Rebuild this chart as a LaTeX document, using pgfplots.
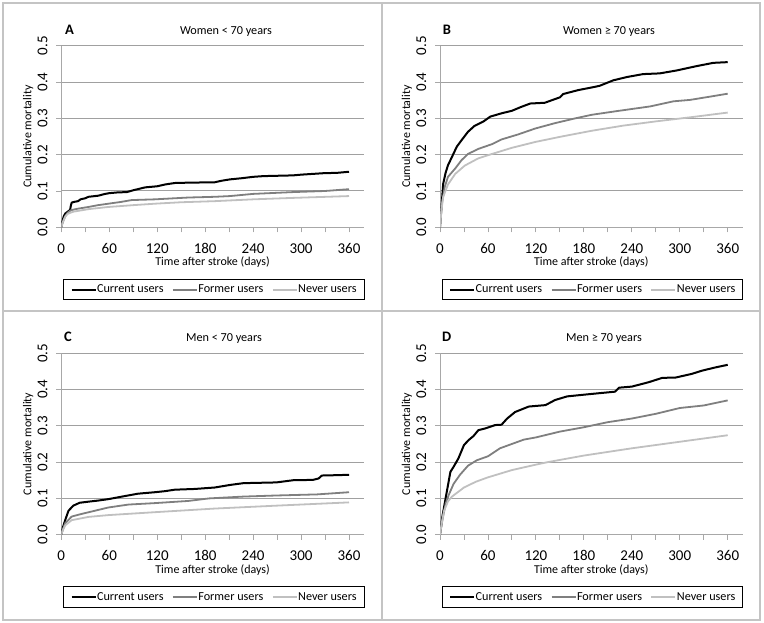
\documentclass[border=0pt]{standalone}
\usepackage{fontspec}
\setmainfont{Carlito}
\usepackage{pgfplots}
\pgfplotsset{compat=1.18}

\definecolor{cur}{HTML}{000000}
\definecolor{form}{HTML}{7F7F7F}
\definecolor{nev}{HTML}{C0C0C0}
\definecolor{gridc}{HTML}{A0A0A0}
\definecolor{axc}{HTML}{A8A8A8}
\definecolor{framec}{HTML}{C4C4C4}

\pgfplotsset{panel/.style={
  scale only axis, width=302.5pt, height=181.5pt,
  xmin=0, xmax=378.5, ymin=0, ymax=0.5,
  axis x line*=bottom, axis y line*=left,
  axis line style={draw=axc, line width=0.9pt, -},
  xtick={0,60,...,360}, minor xtick={30,90,...,330},
  ytick={0,0.1,0.2,0.3,0.4,0.5},
  tick align=outside, major tick length=5pt, minor tick length=5pt,
  tick style={draw=axc, line width=0.9pt},
  ymajorgrids, major grid style={draw=gridc, line width=1pt},
  /pgf/number format/assume math mode=true,
  yticklabel style={/pgf/number format/fixed, /pgf/number format/fixed zerofill,
     /pgf/number format/precision=1, xshift=-9pt, rotate=90, anchor=base},
  xticklabel style={anchor=base, yshift=-21pt},
  tick label style={font=\fontsize{15}{18}\selectfont},
  label style={font=\fontsize{12}{14}\selectfont},
  xlabel={Time after stroke (days)},
  ylabel={Cumulative mortality},
  xlabel style={at={(axis description cs:0.5,-0.212)}, anchor=base},
  ylabel style={at={(axis description cs:-0.099,0.5)}, anchor=base},
  legend columns=3,
  legend image code/.code={\draw[#1] (0pt,0pt) -- (24pt,0pt);},
  legend style={draw=black, line width=0.8pt, fill=white,
     at={(axis description cs:0.006,-0.285)}, anchor=north west,
     font=\fontsize{12.2}{14}\selectfont,
     inner xsep=7pt, inner ysep=3.5pt,
     nodes={inner xsep=0.5pt, inner ysep=2pt},
     /tikz/every even column/.append style={column sep=8pt}},
  every axis plot/.append style={line join=round},
}}

\begin{document}
\begin{tikzpicture}[x=1pt,y=1pt]
\path (0,0) rectangle (764,623);
\draw[framec, line width=1.2pt] (3,3) rectangle (760,620);
\draw[framec, line width=1.2pt] (382,3) -- (382,620);
\draw[framec, line width=1.2pt] (3,312) -- (760,312);

% ---------------- Panel A ----------------
\begin{axis}[panel, at={(61.3pt,395.7pt)}, anchor=south west]
\addplot[cur, line width=2pt] table[x=t,y=m] {
t m
0 0
1 0.012
3 0.030
5 0.038
8 0.043
11 0.048
12 0.060
13 0.068
16 0.070
21 0.072
24 0.077
30 0.080
34 0.084
46 0.087
55 0.092
60 0.094
70 0.096
82 0.097
90 0.102
105 0.110
120 0.113
130 0.118
142 0.122
160 0.123
192 0.124
200 0.128
211 0.132
225 0.135
240 0.139
253 0.141
290 0.143
300 0.145
328 0.149
345 0.150
360 0.153
};
\addplot[form, line width=1.8pt] table[x=t,y=m] {
t m
0 0
2 0.015
5 0.030
8 0.040
12 0.047
20 0.051
34 0.056
46 0.061
59 0.065
75 0.070
88 0.075
117 0.077
159 0.082
192 0.084
211 0.086
240 0.092
290 0.097
330 0.100
360 0.105
};
\addplot[nev, line width=1.8pt] table[x=t,y=m] {
t m
0 0
2 0.015
5 0.030
8 0.037
15 0.043
34 0.050
59 0.056
90 0.061
117 0.065
150 0.069
192 0.072
240 0.077
290 0.081
360 0.086
};
\legend{Current users, Former users, Never users}
\end{axis}

% ---------------- Panel B ----------------
\begin{axis}[panel, at={(440pt,395.7pt)}, anchor=south west]
\addplot[cur, line width=2pt] table[x=t,y=m] {
t m
0 0
1 0.03
4 0.12
7 0.15
10 0.171
15 0.194
21 0.222
27 0.240
35 0.263
43 0.279
54 0.291
63 0.305
77 0.314
90 0.321
102 0.332
113 0.341
131 0.343
150 0.358
154 0.367
173 0.378
194 0.387
200 0.390
217 0.405
234 0.414
254 0.422
275 0.424
296 0.432
321 0.444
342 0.453
360 0.455
};
\addplot[form, line width=1.8pt] table[x=t,y=m] {
t m
0 0
2 0.06
6 0.112
10 0.139
19 0.162
27 0.185
35 0.202
48 0.216
65 0.229
77 0.242
98 0.256
119 0.272
144 0.287
169 0.300
190 0.310
221 0.320
263 0.333
292 0.347
313 0.351
338 0.360
360 0.368
};
\addplot[nev, line width=1.8pt] table[x=t,y=m] {
t m
0 0
2 0.05
4 0.084
10 0.118
19 0.147
31 0.170
48 0.190
65 0.202
90 0.219
119 0.235
152 0.250
190 0.266
229 0.280
271 0.292
313 0.303
360 0.316
};
\legend{Current users, Former users, Never users}
\end{axis}

% ---------------- Panel C ----------------
\begin{axis}[panel, at={(61.3pt,88.3pt)}, anchor=south west]
\addplot[cur, line width=2pt] table[x=t,y=m] {
t m
0 0
2 0.020
5 0.041
9 0.066
15 0.080
23 0.088
34 0.091
46 0.094
59 0.098
76 0.105
96 0.113
117 0.117
130 0.120
142 0.124
167 0.126
192 0.130
211 0.137
228 0.142
269 0.144
290 0.150
315 0.151
322 0.155
326 0.163
345 0.164
360 0.165
};
\addplot[form, line width=1.8pt] table[x=t,y=m] {
t m
0 0
2 0.015
5 0.032
13 0.050
25 0.057
42 0.066
59 0.075
84 0.083
117 0.087
159 0.093
185 0.100
228 0.105
269 0.108
320 0.111
360 0.117
};
\addplot[nev, line width=1.8pt] table[x=t,y=m] {
t m
0 0
2 0.013
5 0.026
13 0.040
34 0.049
59 0.054
117 0.062
192 0.072
269 0.080
360 0.089
};
\legend{Current users, Former users, Never users}
\end{axis}

% ---------------- Panel D ----------------
\begin{axis}[panel, at={(440pt,88.3pt)}, anchor=south west]
\addplot[cur, line width=2pt] table[x=t,y=m] {
t m
0 0
3 0.05
7 0.10
13 0.173
17 0.187
23 0.210
30 0.247
36 0.261
42 0.272
48 0.288
57 0.293
69 0.302
77 0.303
84 0.320
94 0.338
111 0.353
132 0.357
144 0.371
159 0.381
186 0.387
219 0.394
224 0.405
240 0.408
261 0.420
278 0.432
295 0.433
315 0.443
328 0.452
345 0.461
360 0.468
};
\addplot[form, line width=1.8pt] table[x=t,y=m] {
t m
0 0
3 0.04
7 0.085
11 0.11
17 0.14
25 0.165
35 0.19
46 0.205
60 0.216
75 0.238
90 0.250
105 0.262
120 0.268
150 0.284
180 0.296
210 0.310
240 0.320
270 0.333
300 0.349
330 0.356
360 0.370
};
\addplot[nev, line width=1.8pt] table[x=t,y=m] {
t m
0 0
2 0.03
5 0.065
10 0.092
15 0.105
30 0.130
45 0.146
60 0.158
90 0.178
120 0.193
135 0.200
180 0.218
240 0.238
300 0.256
360 0.274
};
\legend{Current users, Former users, Never users}
\end{axis}

% ---------------- Panel letters and titles ----------------
\begin{scope}[every node/.style={inner sep=0pt}]
\node[anchor=base west, font=\bfseries\fontsize{14.5}{17}\selectfont] at (65,588.7) {A};
\node[anchor=base, font=\fontsize{12.2}{14}\selectfont] at (226,588.7) {Women < 70 years};
\node[anchor=base west, font=\bfseries\fontsize{14.5}{17}\selectfont] at (442.7,588.7) {B};
\node[anchor=base, font=\fontsize{12.2}{14}\selectfont] at (609,588.7) {Women ≥ 70 years};
\node[anchor=base west, font=\bfseries\fontsize{14.5}{17}\selectfont] at (64,281.7) {C};
\node[anchor=base, font=\fontsize{12.2}{14}\selectfont] at (224,281.5) {Men < 70 years};
\node[anchor=base west, font=\bfseries\fontsize{14.5}{17}\selectfont] at (442,281.7) {D};
\node[anchor=base, font=\fontsize{12.2}{14}\selectfont] at (604,281.5) {Men ≥ 70 years};
\end{scope}
\end{tikzpicture}
\end{document}
